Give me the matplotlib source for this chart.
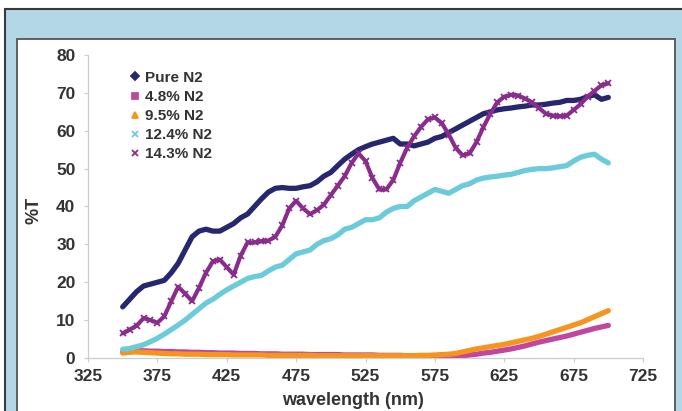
import matplotlib
matplotlib.use("Agg")
import matplotlib.pyplot as plt
from matplotlib.lines import Line2D
from matplotlib.patches import Rectangle

plt.rcParams["font.family"] = ["Liberation Sans", "DejaVu Sans"]

# transmission spectra, sampled every 5 nm from 350 to 700 nm
wavelength = list(range(350, 701, 5))

pure_n2 = [13.5, 15.5, 17.5, 19.0, 19.5, 20.0, 20.5, 22.5, 25.0, 28.5,
           32.0, 33.5, 34.0, 33.5, 33.5, 34.5, 35.5, 37.0, 38.0, 40.0,
           42.0, 43.8, 44.8, 45.0, 44.8, 44.8, 45.2, 45.5, 46.5, 48.0,
           49.0, 50.8, 52.5, 53.8, 55.0, 55.8, 56.5, 57.0, 57.5, 58.0,
           56.5, 56.5, 56.0, 56.5, 57.0, 58.0, 58.5, 59.5, 60.5, 61.5,
           62.5, 63.5, 64.5, 65.0, 65.5, 65.8, 66.0, 66.3, 66.5, 66.8,
           66.8, 67.0, 67.3, 67.5, 68.0, 68.0, 68.3, 69.0, 69.5, 68.3,
           68.8]

n2_4_8 = [1.6, 1.8, 1.9, 1.9, 1.8, 1.8, 1.7, 1.7, 1.6, 1.6,
          1.5, 1.5, 1.4, 1.4, 1.3, 1.3, 1.3, 1.2, 1.2, 1.2,
          1.1, 1.1, 1.1, 1.0, 1.0, 1.0, 1.0, 0.9, 0.9, 0.9,
          0.9, 0.9, 0.8, 0.8, 0.8, 0.8, 0.8, 0.7, 0.7, 0.7,
          0.7, 0.6, 0.6, 0.5, 0.4, 0.3, 0.3, 0.3, 0.4, 0.6,
          0.8, 1.0, 1.3, 1.5, 1.8, 2.1, 2.4, 2.8, 3.2, 3.7,
          4.2, 4.6, 5.0, 5.4, 5.8, 6.3, 6.8, 7.3, 7.8, 8.2,
          8.6]

n2_9_5 = [1.3, 1.5, 1.6, 1.5, 1.4, 1.3, 1.2, 1.1, 1.1, 1.0,
          1.0, 1.0, 0.9, 0.9, 0.9, 0.9, 0.8, 0.8, 0.8, 0.8,
          0.8, 0.7, 0.7, 0.7, 0.7, 0.7, 0.7, 0.7, 0.6, 0.6,
          0.6, 0.6, 0.6, 0.6, 0.6, 0.6, 0.6, 0.6, 0.6, 0.6,
          0.6, 0.6, 0.6, 0.7, 0.7, 0.8, 0.9, 1.0, 1.2, 1.6,
          2.0, 2.4, 2.7, 3.0, 3.3, 3.6, 4.0, 4.4, 4.8, 5.2,
          5.7, 6.3, 6.9, 7.5, 8.1, 8.7, 9.3, 10.1, 10.9, 11.7,
          12.5]

n2_12_4 = [2.3, 2.5, 3.0, 3.5, 4.3, 5.2, 6.3, 7.5, 8.7, 10.0,
           11.5, 13.0, 14.5, 15.5, 16.8, 18.0, 19.0, 20.0, 21.0, 21.5,
           21.8, 23.0, 24.0, 24.5, 26.0, 27.5, 28.0, 28.5, 30.0, 31.0,
           31.5, 32.5, 34.0, 34.5, 35.5, 36.5, 36.5, 37.0, 38.5, 39.5,
           40.0, 40.0, 41.5, 42.5, 43.5, 44.5, 44.0, 43.5, 44.5, 45.5,
           46.0, 47.0, 47.5, 47.8, 48.0, 48.3, 48.5, 49.0, 49.5, 49.8,
           50.0, 50.0, 50.2, 50.5, 50.8, 52.0, 53.0, 53.5, 53.8, 52.5,
           51.5]

n2_14_3 = [6.5, 7.5, 8.5, 10.5, 10.0, 9.3, 11.0, 15.0, 18.8, 17.0,
           15.0, 18.5, 22.5, 25.5, 26.0, 24.0, 22.0, 27.0, 30.5, 30.5,
           30.8, 31.0, 32.0, 35.0, 39.5, 41.5, 39.5, 38.0, 39.0, 40.5,
           43.0, 45.5, 48.0, 51.5, 54.0, 52.0, 47.5, 44.5, 44.5, 47.0,
           51.5, 55.5, 58.5, 61.0, 63.0, 63.5, 62.0, 59.0, 55.5, 53.5,
           54.0, 57.0, 61.0, 64.5, 67.5, 69.0, 69.5, 69.3, 68.5, 67.5,
           66.0, 64.5, 64.0, 63.8, 64.0, 65.5, 67.0, 69.0, 70.5, 72.0,
           72.5]

labels = ["Pure N2", "4.8% N2", "9.5% N2", "12.4% N2", "14.3% N2"]
series = [pure_n2, n2_4_8, n2_9_5, n2_12_4, n2_14_3]
colors = ["#27276f", "#c0479d", "#f7941e", "#6ccbdb", "#8a2c8c"]
markers = ["D", "s", "^", "x", "x"]

W, H = 682, 411
fig = plt.figure(figsize=(W / 100, H / 100), dpi=100)
fig.patch.set_facecolor("white")

# background: light blue frame with a white inner panel, in pixel units
bg = fig.add_axes([0, 0, 1, 1], zorder=-5)
bg.set_xlim(0, W)
bg.set_ylim(H, 0)
bg.axis("off")
bg.add_patch(Rectangle((5, 9), W, H, facecolor="#b3d7e6", edgecolor="#3a3a3a", lw=1.5))
bg.add_patch(Rectangle((16.5, 39.5), 658, H, facecolor="white", edgecolor="#555555", lw=1.3))

ax = fig.add_axes([88 / W, 53 / H, 555 / W, 303 / H])
ax.set_facecolor("none")

for vals, col, mk in zip(series, colors, markers):
    if col == "#8a2c8c":
        # the 14.3% trace has a hatched look from its x markers
        ax.plot(wavelength, vals, color=col, lw=3.0, solid_capstyle="round",
                marker="x", ms=4.5, mew=1.3)
    else:
        ax.plot(wavelength, vals, color=col, lw=3.8, solid_capstyle="round")

ax.set_xlim(325, 725)
ax.set_ylim(0, 80)
ax.set_xticks(range(325, 726, 50))
ax.set_yticks(range(0, 81, 10))
for s in ["top", "right"]:
    ax.spines[s].set_visible(False)
for s in ["left", "bottom"]:
    ax.spines[s].set_color("#cccccc")
    ax.spines[s].set_linewidth(0.9)
ax.tick_params(colors="#cccccc", length=3, width=0.8, labelcolor="#333333",
               labelsize=12.5)
ax.tick_params(axis="y", pad=6)
ax.tick_params(axis="x", pad=5)
for t in ax.get_xticklabels() + ax.get_yticklabels():
    t.set_fontweight("bold")

fig.text(353 / W, 1 - 400 / H, "wavelength (nm)", ha="center", va="center",
         fontsize=13, fontweight="bold", color="#333333")
fig.text(34 / W, 1 - 210 / H, "%T", ha="center", va="center", rotation=90,
         fontsize=13, fontweight="bold", color="#333333")

handles = [Line2D([], [], ls="none", marker=m, color=c, ms=4.5 if m != "x" else 5,
                  mew=1.3) for m, c in zip(markers, colors)]
leg = ax.legend(handles, labels, loc="upper left", bbox_to_anchor=(0.066, 0.968),
                frameon=False, fontsize=11, handlelength=0.5, handletextpad=0.45,
                labelspacing=0.33, borderaxespad=0)
for t in leg.get_texts():
    t.set_color("#333333")
    t.set_fontweight("bold")

fig.savefig("out.png", dpi=100, facecolor=fig.get_facecolor())
